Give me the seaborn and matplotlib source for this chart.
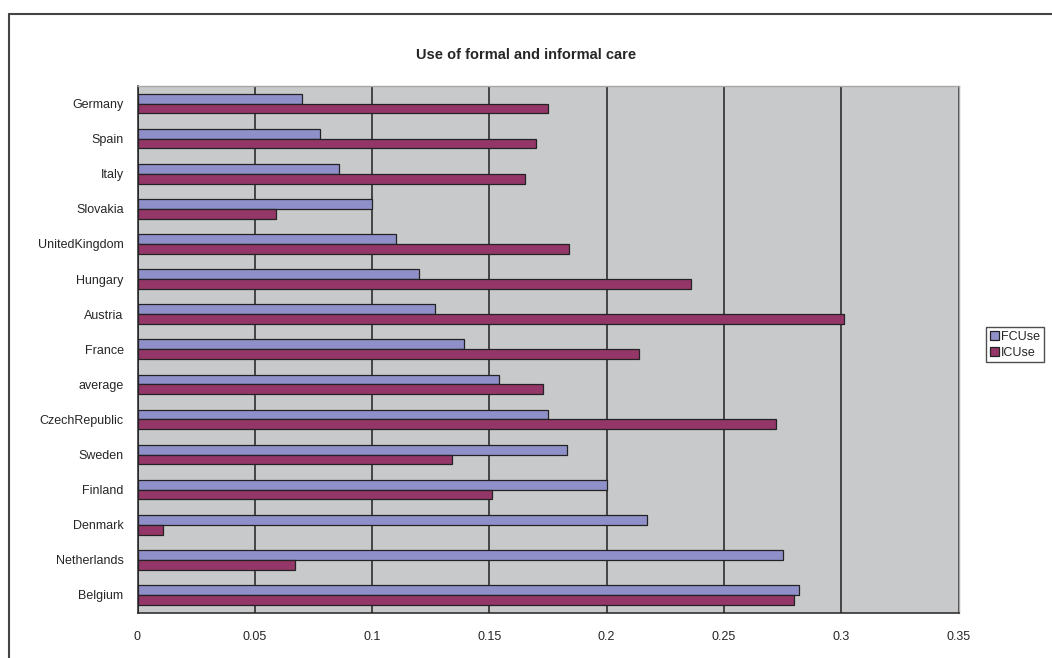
import pandas as pd
import matplotlib.pyplot as plt
import matplotlib.lines as mlines
import seaborn as sns
from matplotlib.ticker import FixedLocator

countries = ['Germany', 'Spain', 'Italy', 'Slovakia', 'UnitedKingdom', 'Hungary',
             'Austria', 'France', 'average', 'CzechRepublic', 'Sweden', 'Finland',
             'Denmark', 'Netherlands', 'Belgium']
fc_use = [0.070, 0.078, 0.086, 0.100, 0.110, 0.120, 0.127, 0.139, 0.154,
          0.175, 0.183, 0.200, 0.217, 0.275, 0.282]
ic_use = [0.175, 0.170, 0.165, 0.059, 0.184, 0.236, 0.301, 0.214, 0.173,
          0.272, 0.134, 0.151, 0.011, 0.067, 0.280]
series = ['FCUse', 'ICUse']
x_ticks = [0, 0.05, 0.1, 0.15, 0.2, 0.25, 0.3, 0.35]
x_labels = ['0', '0.05', '0.1', '0.15', '0.2', '0.25', '0.3', '0.35']

df = pd.DataFrame({
    'Country': countries * 2,
    'Value': fc_use + ic_use,
    'Series': [series[0]] * len(countries) + [series[1]] * len(countries)
})

sns.set_style("white")
plt.rcParams['font.family'] = ['Liberation Sans', 'DejaVu Sans']

fig = plt.figure(figsize=(10.52, 6.58), dpi=100)
ax = fig.add_axes([137.5 / 1052, 1 - 612.5 / 658, (958.5 - 137.5) / 1052, (612.5 - 86) / 658])
ax.set_facecolor('#c8c9cb')

sns.barplot(data=df, y='Country', x='Value', hue='Series', hue_order=series,
            palette=['#8f8fca', '#943668'], orient='h', width=0.56,
            edgecolor='#222222', linewidth=0.9, saturation=1, ax=ax, zorder=3)

ax.set_xlim(0, 0.35)
ax.set_xticks(x_ticks)
ax.set_xticklabels(x_labels, fontsize=9)
ax.xaxis.grid(True, color='#3a3a3a', linewidth=1.3, zorder=1)
ax.set_axisbelow(True)
ax.tick_params(axis='x', direction='out', length=4, width=1, color='#222222', pad=9)
ax.tick_params(axis='y', which='major', length=0, labelsize=9, pad=10)
ax.yaxis.set_minor_locator(FixedLocator([i - 0.5 for i in range(len(countries) + 1)]))
ax.tick_params(axis='y', which='minor', direction='out', length=4, width=1, color='#222222')
ax.set_xlabel('')
ax.set_ylabel('')

for side in ['left', 'bottom']:
    ax.spines[side].set_color('#222222')
    ax.spines[side].set_linewidth(1.1)
for side in ['top', 'right']:
    ax.spines[side].set_color('#a8a8a8')
    ax.spines[side].set_linewidth(1)

handles, labels = ax.get_legend_handles_labels()
ax.get_legend().remove()
fig.legend(handles, labels, loc='upper left', bbox_to_anchor=(986 / 1052, 1 - 327 / 658),
           frameon=True, fancybox=False, edgecolor='#222222', fontsize=9,
           handlelength=0.7, handleheight=0.7, handletextpad=0.2, borderpad=0.3,
           labelspacing=0.3, borderaxespad=0)

fig.text(0.5, 1 - 55 / 658, 'Use of formal and informal care', ha='center', va='center',
         fontsize=10.5, fontweight='bold')

# outer chart border (only top and left are visible)
fig.add_artist(mlines.Line2D([8.5 / 1052, 8.5 / 1052], [0, 1 - 14 / 658], color='#444444',
                             linewidth=1.5, transform=fig.transFigure))
fig.add_artist(mlines.Line2D([8.5 / 1052, 1], [1 - 14 / 658, 1 - 14 / 658], color='#444444',
                             linewidth=1.5, transform=fig.transFigure))

fig.savefig('out.png', dpi=100)
